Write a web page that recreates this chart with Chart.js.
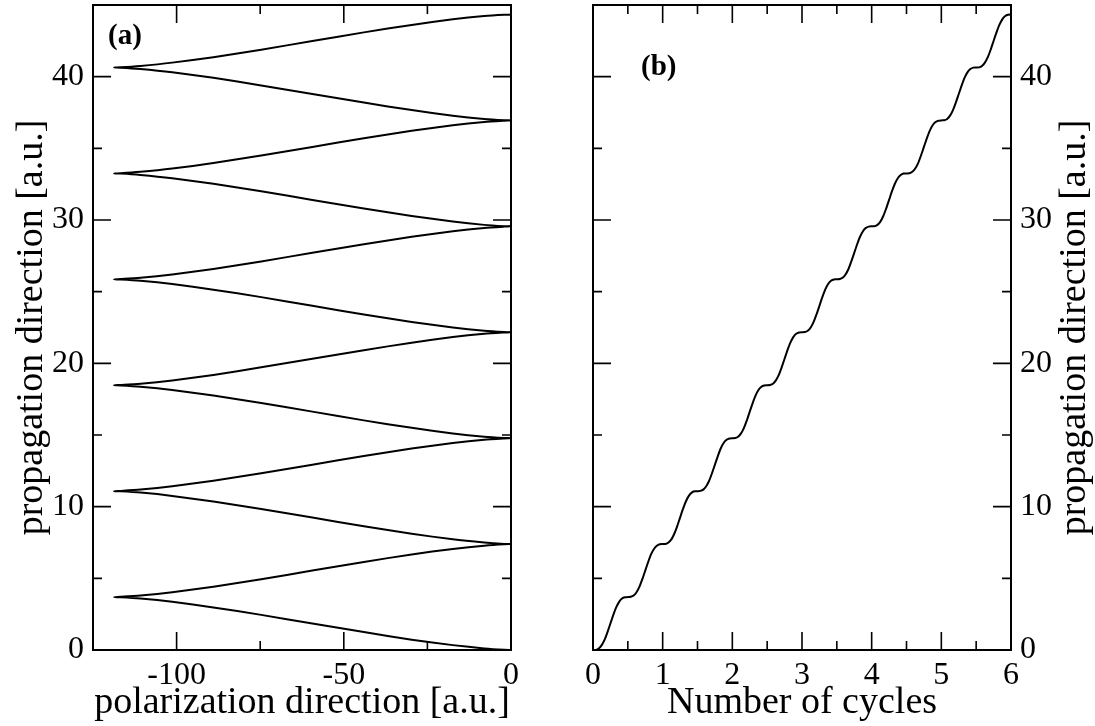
<!DOCTYPE html>
<html>
<head>
<meta charset="utf-8">
<script src="https://cdn.jsdelivr.net/npm/chart.js@4/dist/chart.umd.min.js"></script>
<style>
  html, body { margin: 0; padding: 0; background: #fff; }
  body { width: 1095px; height: 726px; position: relative; overflow: hidden; }
  #wa { position: absolute; left: 0; top: 0; }
  #wb { position: absolute; left: 547px; top: 0; }
</style>
</head>
<body>
<canvas id="wa" width="547" height="726"></canvas>
<canvas id="wb" width="548" height="726"></canvas>
<script>
// time in laser cycles
const cycles = [
  0, 0.042, 0.083, 0.125, 0.167, 0.208, 0.25, 0.292, 0.333, 0.375, 0.417, 0.458,
  0.5, 0.542, 0.583, 0.625, 0.667, 0.708, 0.75, 0.792, 0.833, 0.875, 0.917, 0.958,
  1, 1.042, 1.083, 1.125, 1.167, 1.208, 1.25, 1.292, 1.333, 1.375, 1.417, 1.458,
  1.5, 1.542, 1.583, 1.625, 1.667, 1.708, 1.75, 1.792, 1.833, 1.875, 1.917, 1.958,
  2, 2.042, 2.083, 2.125, 2.167, 2.208, 2.25, 2.292, 2.333, 2.375, 2.417, 2.458,
  2.5, 2.542, 2.583, 2.625, 2.667, 2.708, 2.75, 2.792, 2.833, 2.875, 2.917, 2.958,
  3, 3.042, 3.083, 3.125, 3.167, 3.208, 3.25, 3.292, 3.333, 3.375, 3.417, 3.458,
  3.5, 3.542, 3.583, 3.625, 3.667, 3.708, 3.75, 3.792, 3.833, 3.875, 3.917, 3.958,
  4, 4.042, 4.083, 4.125, 4.167, 4.208, 4.25, 4.292, 4.333, 4.375, 4.417, 4.458,
  4.5, 4.542, 4.583, 4.625, 4.667, 4.708, 4.75, 4.792, 4.833, 4.875, 4.917, 4.958,
  5, 5.042, 5.083, 5.125, 5.167, 5.208, 5.25, 5.292, 5.333, 5.375, 5.417, 5.458,
  5.5, 5.542, 5.583, 5.625, 5.667, 5.708, 5.75, 5.792, 5.833, 5.875, 5.917, 5.958,
  6
];

// position along the polarization direction [a.u.]
const polarization = [
  0, -2.0, -8.0, -17.4, -29.7, -44.0, -59.4, -74.7, -89.0, -101.3, -110.8, -116.7,
  -118.7, -116.7, -110.8, -101.3, -89.0, -74.7, -59.4, -44.0, -29.7, -17.4, -8.0, -2.0,
  0, -2.0, -8.0, -17.4, -29.7, -44.0, -59.4, -74.7, -89.0, -101.3, -110.8, -116.7,
  -118.7, -116.7, -110.8, -101.3, -89.0, -74.7, -59.4, -44.0, -29.7, -17.4, -8.0, -2.0,
  0, -2.0, -8.0, -17.4, -29.7, -44.0, -59.4, -74.7, -89.0, -101.3, -110.8, -116.7,
  -118.7, -116.7, -110.8, -101.3, -89.0, -74.7, -59.4, -44.0, -29.7, -17.4, -8.0, -2.0,
  0, -2.0, -8.0, -17.4, -29.7, -44.0, -59.4, -74.7, -89.0, -101.3, -110.8, -116.7,
  -118.7, -116.7, -110.8, -101.3, -89.0, -74.7, -59.4, -44.0, -29.7, -17.4, -8.0, -2.0,
  0, -2.0, -8.0, -17.4, -29.7, -44.0, -59.4, -74.7, -89.0, -101.3, -110.8, -116.7,
  -118.7, -116.7, -110.8, -101.3, -89.0, -74.7, -59.4, -44.0, -29.7, -17.4, -8.0, -2.0,
  0, -2.0, -8.0, -17.4, -29.7, -44.0, -59.4, -74.7, -89.0, -101.3, -110.8, -116.7,
  -118.7, -116.7, -110.8, -101.3, -89.0, -74.7, -59.4, -44.0, -29.7, -17.4, -8.0, -2.0,
  0
];

// position along the propagation direction [a.u.]
const propagation = [
  0, 0.01, 0.11, 0.34, 0.72, 1.25, 1.85, 2.45, 2.97, 3.36, 3.59, 3.68,
  3.69, 3.71, 3.80, 4.03, 4.42, 4.94, 5.54, 6.14, 6.67, 7.05, 7.28, 7.38,
  7.39, 7.40, 7.50, 7.72, 8.11, 8.63, 9.24, 9.84, 10.36, 10.75, 10.98, 11.07,
  11.08, 11.10, 11.19, 11.42, 11.81, 12.33, 12.93, 13.53, 14.06, 14.44, 14.67, 14.76,
  14.78, 14.79, 14.88, 15.11, 15.50, 16.02, 16.63, 17.23, 17.75, 18.14, 18.37, 18.46,
  18.47, 18.49, 18.58, 18.81, 19.19, 19.72, 20.32, 20.92, 21.44, 21.83, 22.06, 22.15,
  22.17, 22.18, 22.27, 22.50, 22.89, 23.41, 24.01, 24.62, 25.14, 25.53, 25.76, 25.85,
  25.86, 25.88, 25.97, 26.20, 26.58, 27.11, 27.71, 28.31, 28.83, 29.22, 29.45, 29.54,
  29.56, 29.57, 29.66, 29.89, 30.28, 30.80, 31.40, 32.01, 32.53, 32.91, 33.14, 33.24,
  33.25, 33.26, 33.36, 33.59, 33.97, 34.50, 35.10, 35.70, 36.22, 36.61, 36.84, 36.93,
  36.95, 36.96, 37.05, 37.28, 37.67, 38.19, 38.79, 39.39, 39.92, 40.30, 40.53, 40.63,
  40.64, 40.65, 40.75, 40.98, 41.36, 41.88, 42.49, 43.09, 43.61, 44.00, 44.23, 44.32,
  44.33
];

// tick values / labels
const xTicksA = [-100, -50, 0];
const xMinorA = [-75, -25];
const xTicksB = [0, 1, 2, 3, 4, 5, 6];
const xMinorB = [0.5, 1.5, 2.5, 3.5, 4.5, 5.5];
const yTicks = [0, 10, 20, 30, 40];
const yMinor = [5, 15, 25, 35];

const panelLabels = ['(a)', '(b)'];
const xTitles = ['polarization direction [a.u.]', 'Number of cycles'];
const yTitle = 'propagation direction [a.u.]';

const SERIF = '"Liberation Serif", "Times New Roman", serif';
const tickFont = { family: SERIF, size: 32 };
const titleFont = { family: SERIF, size: 38 };

const framePlugin = {
  id: 'frameTicks',
  afterDatasetsDraw(chart, args, o) {
    const { ctx, chartArea: a, scales: { x, y } } = chart;
    ctx.save();
    ctx.strokeStyle = '#000';
    ctx.lineWidth = 1.6;
    ctx.lineCap = 'butt';
    const major = 18, minor = 9;
    ctx.beginPath();
    const xs = (vals, len) => vals.forEach(v => {
      const p = x.getPixelForValue(v);
      ctx.moveTo(p, a.bottom); ctx.lineTo(p, a.bottom - len);
      ctx.moveTo(p, a.top); ctx.lineTo(p, a.top + len);
    });
    const ys = (vals, len) => vals.forEach(v => {
      const p = y.getPixelForValue(v);
      ctx.moveTo(a.left, p); ctx.lineTo(a.left + len, p);
      ctx.moveTo(a.right, p); ctx.lineTo(a.right - len, p);
    });
    xs(o.xMajor, major); xs(o.xMinor, minor);
    ys(yTicks, major); ys(yMinor, minor);
    ctx.stroke();
    ctx.lineWidth = 2;
    ctx.strokeRect(a.left, a.top, a.right - a.left, a.bottom - a.top);
    // panel label
    ctx.fillStyle = '#000';
    ctx.font = 'bold 29px ' + SERIF;
    ctx.textAlign = 'left';
    ctx.textBaseline = 'middle';
    ctx.fillText(o.label, o.lx, o.ly);
    if (o.rightTitle) {
      ctx.font = '38px ' + SERIF;
      ctx.textAlign = 'center';
      ctx.translate(o.rtx, (a.top + a.bottom) / 2);
      ctx.rotate(-Math.PI / 2);
      ctx.fillText(o.rightTitle, 0, 0);
    }
    ctx.restore();
  }
};

function fixed(size, horiz) {
  return function (s) {
    if (horiz) s.height = size; else s.width = size;
    s.paddingLeft = 0; s.paddingRight = 0; s.paddingTop = 0; s.paddingBottom = 0;
  };
}
function setTicks(vals) {
  return function (s) { s.ticks = vals.map(v => ({ value: v })); };
}

// Panel (a)
new Chart(document.getElementById('wa'), {
  type: 'scatter',
  data: {
    datasets: [{
      data: polarization.map((v, i) => ({ x: v, y: propagation[i] })),
      showLine: true, pointRadius: 0, borderColor: '#000', borderWidth: 2, tension: 0.2, fill: false
    }]
  },
  options: {
    responsive: false, animation: false,
    layout: { padding: { left: 0, top: 5, right: 36, bottom: 0 } },
    plugins: {
      legend: { display: false }, tooltip: { enabled: false },
      frameTicks: { xMajor: xTicksA, xMinor: xMinorA, label: panelLabels[0], lx: 108, ly: 37 }
    },
    scales: {
      x: {
        type: 'linear', position: 'bottom', min: -125, max: 0,
        afterBuildTicks: setTicks(xTicksA), afterFit: fixed(76, true),
        grid: { display: false, drawTicks: false }, border: { display: false },
        ticks: { font: tickFont, color: '#000', padding: 6, maxRotation: 0, autoSkip: false, callback: v => String(v) },
        title: { display: true, text: xTitles[0], font: titleFont, color: '#000', padding: { top: 0, bottom: 0 } }
      },
      y: {
        type: 'linear', position: 'left', min: 0, max: 45,
        afterBuildTicks: setTicks(yTicks), afterFit: fixed(93, false),
        grid: { display: false, drawTicks: false }, border: { display: false },
        ticks: { font: tickFont, color: '#000', padding: 9, autoSkip: false, callback: v => String(v) },
        title: { display: true, text: yTitle, font: titleFont, color: '#000', padding: { top: 9, bottom: 0 } }
      }
    }
  },
  plugins: [framePlugin]
});

// Panel (b)
new Chart(document.getElementById('wb'), {
  type: 'scatter',
  data: {
    datasets: [{
      data: cycles.map((v, i) => ({ x: v, y: propagation[i] })),
      showLine: true, pointRadius: 0, borderColor: '#000', borderWidth: 2, tension: 0.2, fill: false
    }]
  },
  options: {
    responsive: false, animation: false,
    layout: { padding: { left: 46, top: 5, right: 0, bottom: 0 } },
    plugins: {
      legend: { display: false }, tooltip: { enabled: false },
      frameTicks: { xMajor: xTicksB, xMinor: xMinorB, label: panelLabels[1], lx: 94, ly: 68,
                    rightTitle: yTitle, rtx: 528 }
    },
    scales: {
      x: {
        type: 'linear', position: 'bottom', min: 0, max: 6,
        afterBuildTicks: setTicks(xTicksB), afterFit: fixed(76, true),
        grid: { display: false, drawTicks: false }, border: { display: false },
        ticks: { font: tickFont, color: '#000', padding: 6, maxRotation: 0, autoSkip: false, callback: v => String(v) },
        title: { display: true, text: xTitles[1], font: titleFont, color: '#000', padding: { top: 0, bottom: 0 } }
      },
      y: {
        type: 'linear', position: 'right', min: 0, max: 45,
        afterBuildTicks: setTicks(yTicks), afterFit: fixed(84, false),
        grid: { display: false, drawTicks: false }, border: { display: false },
        ticks: { font: tickFont, color: '#000', padding: 9, autoSkip: false, callback: v => String(v) },
        title: { display: false }
      }
    }
  },
  plugins: [framePlugin]
});
</script>
</body>
</html>
